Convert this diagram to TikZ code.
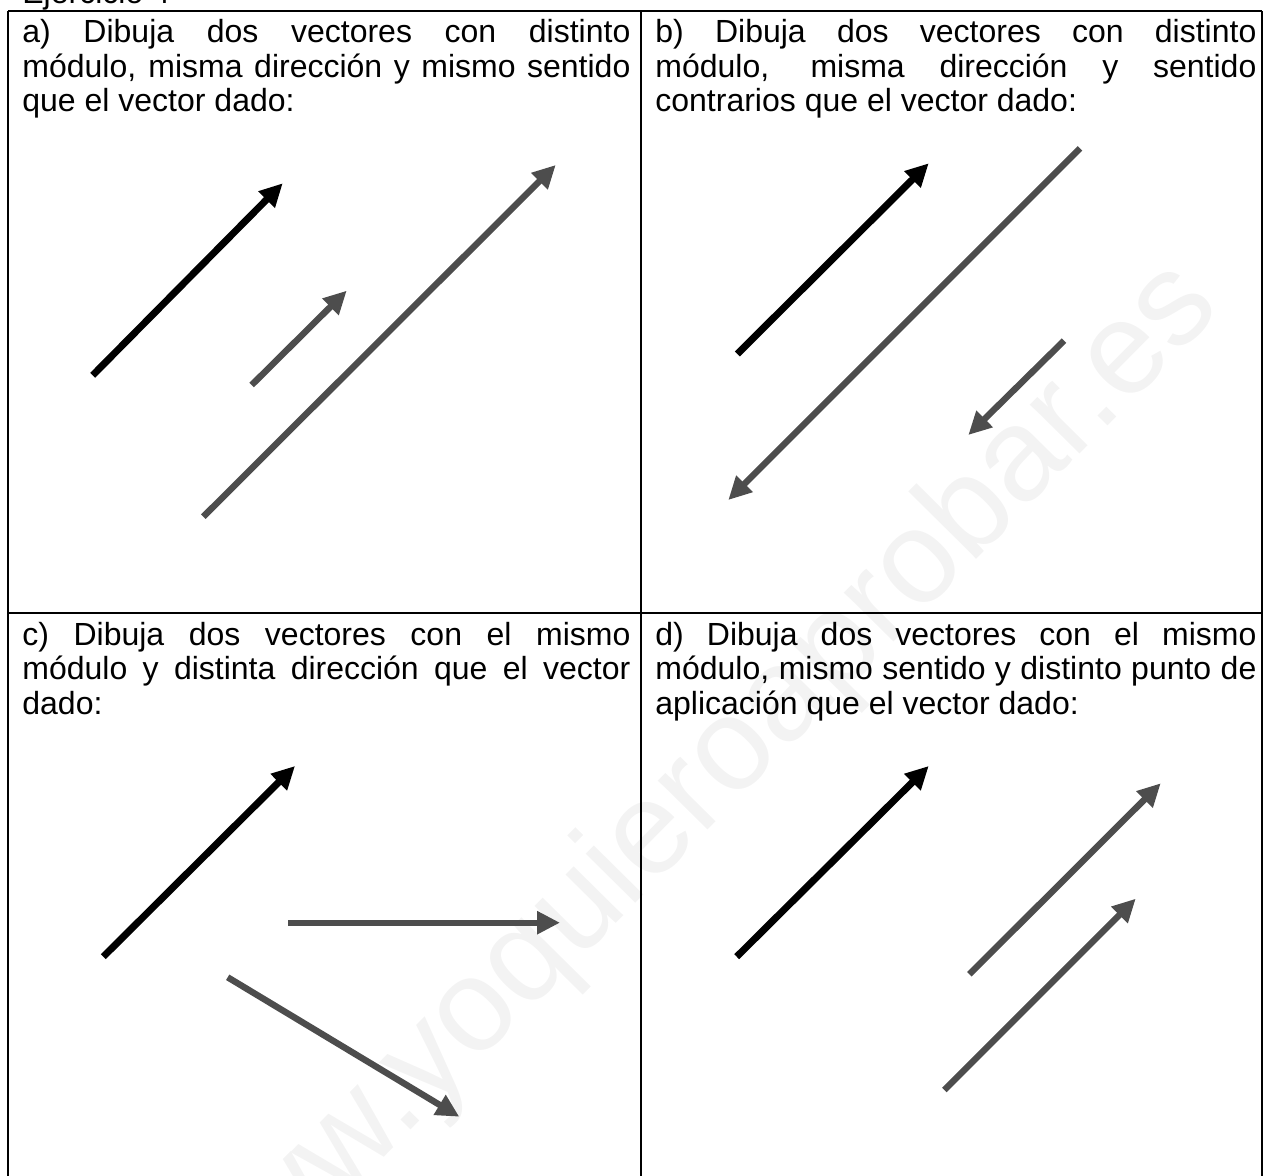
\documentclass[tikz,border=0pt]{standalone}
\usepackage{fontspec}
\setmainfont{Liberation Sans}
\usetikzlibrary{arrows.meta}
\definecolor{vgrey}{HTML}{4D4D4D}
\definecolor{wmark}{HTML}{F3F3F3}
\begin{document}
\begin{tikzpicture}[x=0.5pt,y=-0.5pt,
  given/.style={line width=3.5pt, black, -{Triangle[length=11.5pt,width=11pt]}},
  drawnvec/.style={line width=3.2pt, vgrey, -{Triangle[length=11.5pt,width=11pt]}},
  frame/.style={line width=1pt, black},
  task/.style={anchor=base west, inner sep=0pt, align=justify, font=\fontsize{16}{17.25}\selectfont},
  wm/.style={anchor=base, inner sep=0pt, text=wmark, rotate=45.3, font=\fontsize{66}{66}\selectfont}
]
\useasboundingbox (0,0) rectangle (1267,1176);
\clip (0,0) rectangle (1267,1176);
% watermark
\node[wm] (wmtext) at (715,823) {www.yoquieroaprobar.es};
% title
\node[anchor=base west, inner sep=0pt, font=\fontsize{16}{17.25}\selectfont] (title) at (22,4) {Ejercicio 4};
% frame
\coordinate (tl) at (8,11);
\coordinate (tm) at (641,11);
\coordinate (tr) at (1262,11);
\coordinate (bl) at (8,1200);
\coordinate (bm) at (641,1200);
\coordinate (br) at (1262,1200);
\coordinate (ml) at (8,613);
\coordinate (mr) at (1262,613);
\draw[frame] (tl) -- (tr);
\draw[frame] (ml) -- (mr);
\draw[frame] (tl) -- (bl);
\draw[frame] (tm) -- (bm);
\draw[frame] (tr) -- (br);
% texts
\node[task, text width=304pt] (ta) at (22,43) {a) Dibuja dos vectores con distinto\linebreak módulo, misma dirección y mismo sentido\linebreak que el vector dado:};
\node[task, text width=300.5pt] (tb) at (655,43) {b) Dibuja dos vectores con distinto\linebreak módulo, misma dirección y sentido\linebreak contrarios que el vector dado:};
\node[task, text width=304pt] (tc) at (22,645) {c) Dibuja dos vectores con el mismo\linebreak módulo y distinta dirección que el vector\linebreak dado:};
\node[task, text width=300.5pt] (td) at (655,645) {d) Dibuja dos vectores con el mismo\linebreak módulo, mismo sentido y distinto punto de\linebreak aplicación que el vector dado:};
% panel a
\coordinate (a0) at (92.7,375.3);
\coordinate (a1) at (282.7,183.3);
\coordinate (a2) at (251.7,385);
\coordinate (a3) at (346.7,290.7);
\coordinate (a4) at (203.3,516.7);
\coordinate (a5) at (555.7,165);
\draw[given] (a0) -- (a1);
\draw[drawnvec] (a2) -- (a3);
\draw[drawnvec] (a4) -- (a5);
% panel b
\coordinate (b0) at (737.3,354);
\coordinate (b1) at (928.7,163.3);
\coordinate (b2) at (1080,148.3);
\coordinate (b3) at (728.3,500);
\coordinate (b4) at (1064,340.7);
\coordinate (b5) at (968.3,435);
\draw[given] (b0) -- (b1);
\draw[drawnvec] (b2) -- (b3);
\draw[drawnvec] (b4) -- (b5);
% panel c
\coordinate (c0) at (103.3,956.7);
\coordinate (c1) at (295,766);
\coordinate (c2) at (288.3,922.7);
\coordinate (c3) at (560,922.7);
\coordinate (c4) at (227.7,977.3);
\coordinate (c5) at (459.3,1116.7);
\draw[given] (c0) -- (c1);
\draw[drawnvec] (c2) -- (c3);
\draw[drawnvec] (c4) -- (c5);
% panel d
\coordinate (d0) at (736.7,956.7);
\coordinate (d1) at (928.7,766);
\coordinate (d2) at (969.3,974.3);
\coordinate (d3) at (1160.7,783.3);
\coordinate (d4) at (944.3,1090);
\coordinate (d5) at (1135.7,898.7);
\draw[given] (d0) -- (d1);
\draw[drawnvec] (d2) -- (d3);
\draw[drawnvec] (d4) -- (d5);
\end{tikzpicture}
\end{document}
